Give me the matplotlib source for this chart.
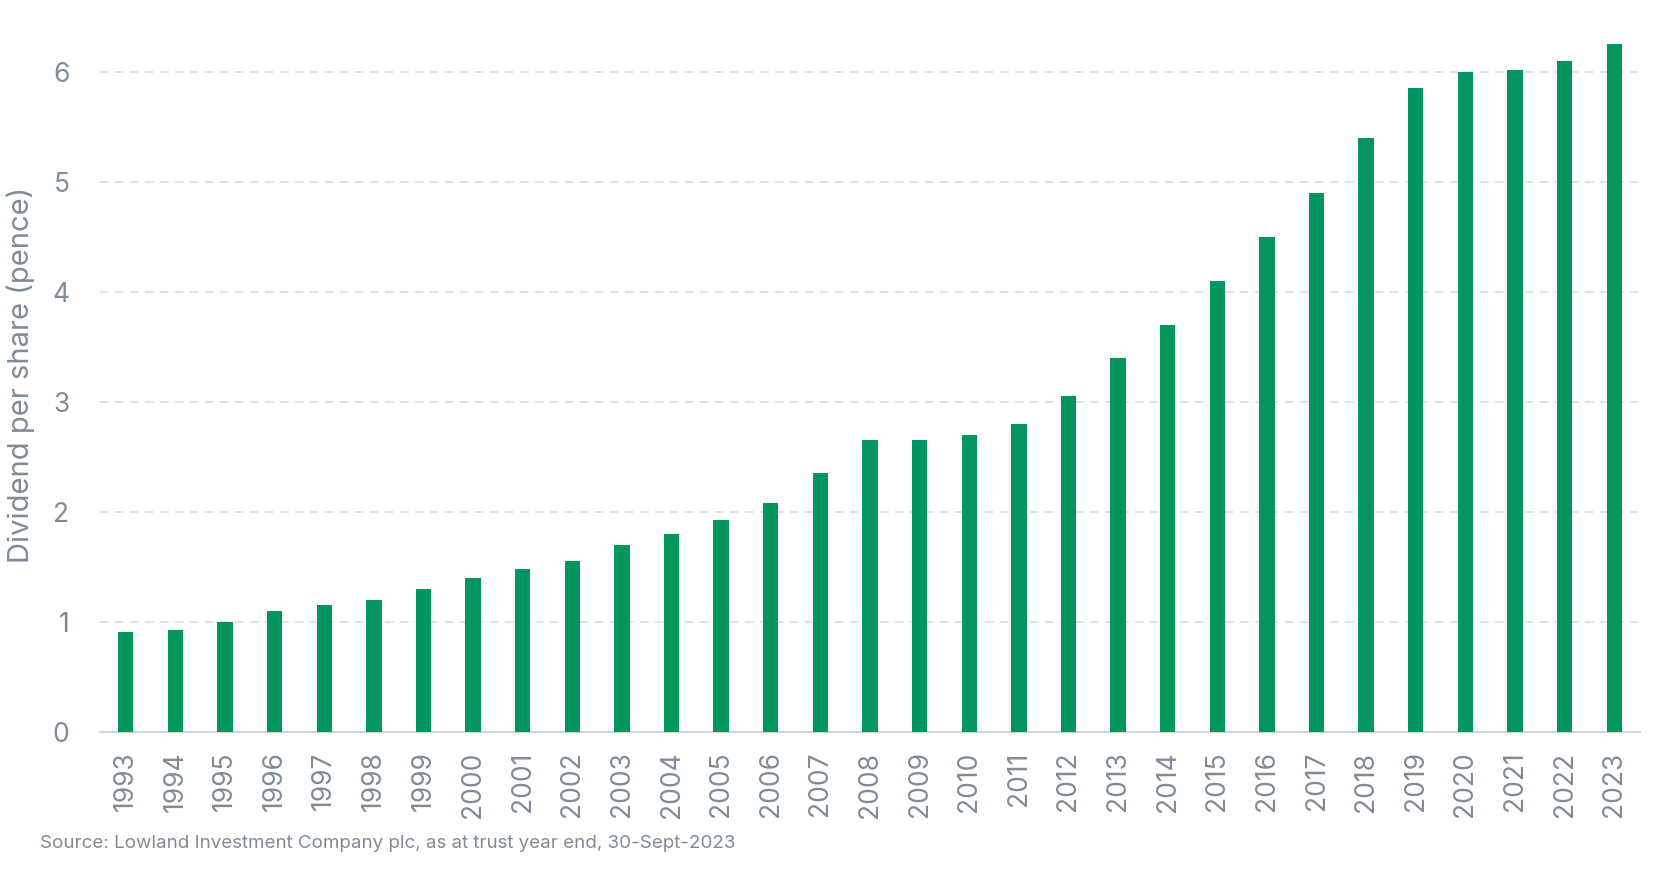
import matplotlib
matplotlib.use("Agg")
import matplotlib.pyplot as plt
import numpy as np

years = [str(y) for y in range(1993, 2024)]
dividends = [0.91, 0.93, 1.00, 1.10, 1.155, 1.20, 1.30, 1.40, 1.48, 1.555,
             1.70, 1.80, 1.93, 2.08, 2.355, 2.655, 2.655, 2.70, 2.80, 3.055,
             3.40, 3.70, 4.10, 4.50, 4.90, 5.40, 5.85, 6.00, 6.02, 6.10, 6.25]
y_ticks = [0, 1, 2, 3, 4, 5, 6]

green = "#00965e"
grey_text = "#7f8c97"

plt.rcParams['font.family'] = ['Inter', 'DejaVu Sans']

fig = plt.figure(figsize=(16.56, 8.75), dpi=100)
ax = fig.add_axes([100 / 1656, 143 / 875, 1540 / 1656, 715 / 875])

x = np.arange(len(years))
ax.bar(x, dividends, width=0.31, color=green, zorder=3)

ax.set_xlim(-0.52, len(years) - 0.48)
ax.set_ylim(0, 6.5)
ax.set_yticks(y_ticks)
ax.set_xticks(x)
ax.set_xticklabels(years, rotation=90)

ax.grid(axis='y', color='#dddddd', linestyle=(0, (5, 4)), linewidth=1.2, zorder=0)
for side in ['top', 'right', 'left']:
    ax.spines[side].set_visible(False)
ax.spines['bottom'].set_color('#d5d5d5')
ax.spines['bottom'].set_linewidth(1.5)

ax.tick_params(axis='y', length=0, pad=22, labelsize=19, labelcolor=grey_text)
ax.tick_params(axis='x', length=0, pad=14, labelsize=19, labelcolor=grey_text)

ax.set_ylabel("Dividend per share (pence)", fontsize=21, color=grey_text)
ax.yaxis.set_label_coords(-0.042, 0.5)

fig.text(40 / 1656, 1 - 843 / 875, "Source: Lowland Investment Company plc, as at trust year end, 30-Sept-2023",
         fontsize=13.5, color=grey_text, va='center', ha='left')

fig.savefig("out.png", dpi=100)
